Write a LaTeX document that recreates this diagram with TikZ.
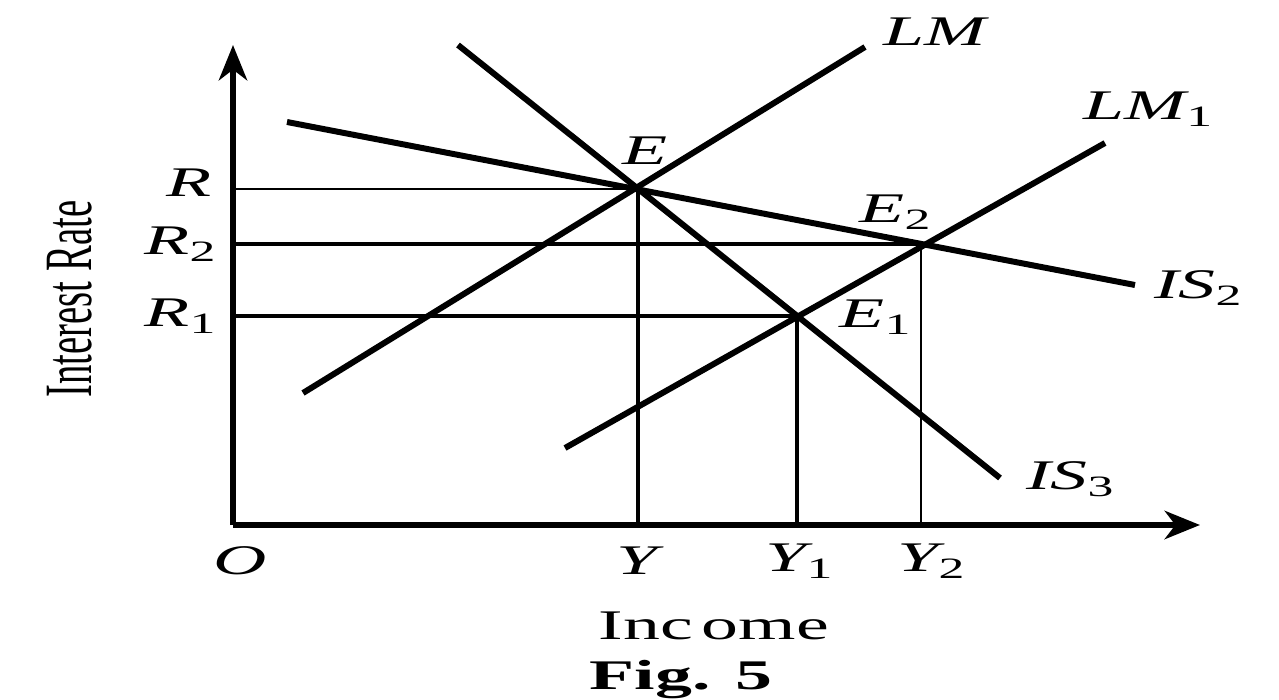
\documentclass[tikz,border=0pt]{standalone}
\usepackage{fontspec}
\usepackage{graphicx}
\setmainfont{Liberation Serif}
\usetikzlibrary{arrows.meta}
\newcommand{\wide}[1]{\scalebox{1.75}[1]{#1}}
\newcommand{\sub}[1]{\rlap{\textsubscript{\upshape #1}}}
\begin{document}
\begin{tikzpicture}[x=0.02cm,y=-0.02cm,
  thick line/.style={line width=3.4pt},
  mid line/.style={line width=2.3pt},
  thin line/.style={line width=1.1pt},
  axis/.style={line width=3.8pt,-{Stealth[length=20pt,width=16pt,inset=6pt]}},
  lab/.style={font=\fontsize{24}{28}\selectfont\itshape,inner sep=0pt}]
\useasboundingbox (0,0) rectangle (1279,700);
% key points
\coordinate (O) at (233,525);
\coordinate (ytop) at (233,45);
\coordinate (xend) at (1200,525);
\coordinate (E) at (638,189);
\coordinate (E1) at (797,316);
\coordinate (E2) at (921,244);
\coordinate (Rax) at (233,189);
\coordinate (R2ax) at (233,244);
\coordinate (R1ax) at (233,316);
\coordinate (Yax) at (638,525);
\coordinate (Y1ax) at (797,525);
\coordinate (Y2ax) at (921,525);
\coordinate (LMa) at (303,393);
\coordinate (LMb) at (865,47);
\coordinate (ISa) at (287,122);
\coordinate (ISb) at (1135,285);
\coordinate (IS3a) at (458,45);
\coordinate (IS3b) at (1000,478);
\coordinate (LM1a) at (565,448);
\coordinate (LM1b) at (1105,143);
% axes
\draw[axis] (O) -- (ytop);
\draw[axis] (O) -- (xend);
% guide lines
\draw[thin line] (Rax) -- (E);
\draw[mid line] (R2ax) -- (E2);
\draw[mid line] (R1ax) -- (E1);
\draw[mid line] (E) -- (Yax);
\draw[mid line] (E1) -- (Y1ax);
\draw[thin line] (E2) -- (Y2ax);
% curves
\draw[thick line] (LMa) -- (LMb);
\draw[thick line] (ISa) -- (ISb);
\draw[thick line] (IS3a) -- (IS3b);
\draw[thick line] (LM1a) -- (LM1b);
% labels
\node[lab] (lLM) at (935,32) {\wide{LM}};
\node[lab] (lLM1) at (1135,109) {\wide{LM\sub{1}}};
\node[lab] (lIS2) at (1185,288) {\wide{IS\sub{2}}};
\node[lab] (lIS3) at (1057,479) {\wide{IS\sub{3}}};
\node[lab] (lE) at (645,151) {\wide{E}};
\node[lab] (lE2) at (882,212) {\wide{E\sub{2}}};
\node[lab] (lE1) at (862,317) {\wide{E\sub{1}}};
\node[lab] (lR) at (189,183) {\wide{R}};
\node[lab] (lR2) at (167,244) {\wide{R\sub{2}}};
\node[lab] (lR1) at (167,316) {\wide{R\sub{1}}};
\node[lab] (lO) at (240,561) {\wide{O}};
\node[lab] (lY) at (637,561) {\wide{Y}};
\node[lab] (lY1) at (786,561) {\wide{Y\sub{1}}};
\node[lab] (lY2) at (918,561) {\wide{Y\sub{2}}};
\node[inner sep=0pt,rotate=90,font=\fontsize{22}{26}\selectfont] (ylab) at (70,299) {\scalebox{1}[1.75]{Interest Rate}};
\node[inner sep=0pt,font=\fontsize{24}{28}\selectfont] (xlab) at (714,626) {\wide{Inc\kern0.12em ome}};
\node[inner sep=0pt,font=\fontsize{24}{28}\selectfont\bfseries] (fig) at (681,680) {\wide{Fig. 5}};
\end{tikzpicture}
\end{document}
